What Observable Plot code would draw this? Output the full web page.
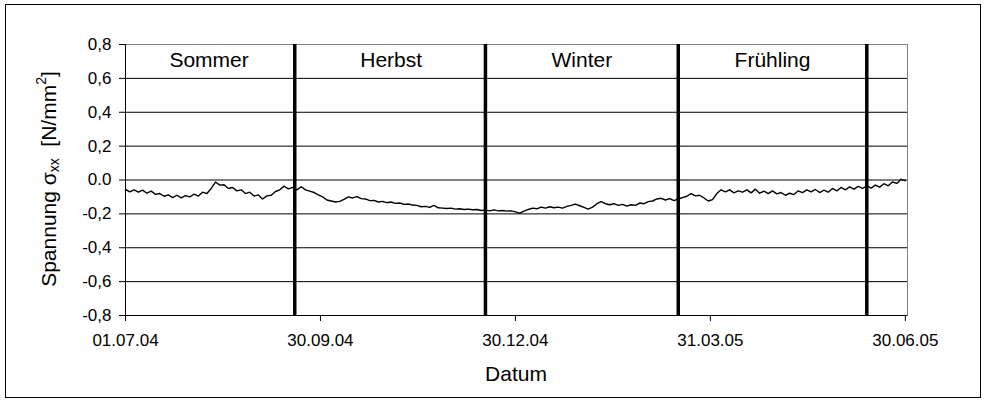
<!DOCTYPE html>
<html><head><meta charset="utf-8">
<script src="https://cdn.jsdelivr.net/npm/d3@7"></script>
<script src="https://cdn.jsdelivr.net/npm/@observablehq/plot@0.6"></script>
<style>
body{margin:0;background:#fff}
#chart{width:985px;height:402px}
</style>
</head><body><div id="chart"></div>
<script>
// ---- data ----
const seriesStart = "2004-07-01";
const stepDays = 2;
const stressValues = [
-0.055,-0.070,-0.058,-0.072,-0.060,-0.078,-0.066,-0.085,-0.080,-0.096,
-0.088,-0.104,-0.090,-0.106,-0.092,-0.100,-0.084,-0.095,-0.072,-0.080,
-0.050,-0.012,-0.030,-0.028,-0.050,-0.044,-0.064,-0.058,-0.080,-0.072,
-0.095,-0.088,-0.112,-0.094,-0.090,-0.068,-0.058,-0.036,-0.052,-0.044,
-0.058,-0.040,-0.058,-0.066,-0.074,-0.088,-0.100,-0.118,-0.124,-0.130,
-0.126,-0.114,-0.100,-0.106,-0.098,-0.110,-0.112,-0.122,-0.120,-0.130,
-0.126,-0.134,-0.130,-0.138,-0.136,-0.144,-0.142,-0.148,-0.150,-0.158,
-0.156,-0.162,-0.150,-0.164,-0.166,-0.168,-0.166,-0.172,-0.170,-0.174,
-0.172,-0.176,-0.174,-0.180,-0.178,-0.182,-0.176,-0.182,-0.180,-0.184,
-0.182,-0.188,-0.196,-0.184,-0.174,-0.166,-0.170,-0.160,-0.166,-0.158,
-0.164,-0.160,-0.166,-0.156,-0.150,-0.142,-0.152,-0.162,-0.172,-0.160,
-0.140,-0.128,-0.140,-0.146,-0.140,-0.150,-0.144,-0.154,-0.146,-0.150,
-0.136,-0.140,-0.128,-0.124,-0.112,-0.108,-0.118,-0.110,-0.122,-0.112,
-0.104,-0.096,-0.080,-0.094,-0.090,-0.106,-0.124,-0.116,-0.080,-0.058,
-0.070,-0.058,-0.076,-0.064,-0.072,-0.058,-0.076,-0.054,-0.078,-0.066,
-0.080,-0.064,-0.082,-0.074,-0.090,-0.078,-0.086,-0.064,-0.074,-0.058,
-0.070,-0.056,-0.074,-0.060,-0.072,-0.050,-0.064,-0.044,-0.058,-0.040,
-0.054,-0.038,-0.050,-0.034,-0.048,-0.030,-0.042,-0.022,-0.034,-0.012,
-0.020,0.004,-0.004
];
const seasonNames = ["Sommer","Herbst","Winter","Frühling"];
const seasonLabelDates = ["2004-08-09","2004-11-02","2005-01-30","2005-04-29"];
const seasonBoundaryDates = ["2004-09-18","2004-12-16","2005-03-16","2005-06-12"];
const xTickDates = ["2004-07-01","2004-09-30","2004-12-30","2005-03-31","2005-06-30"];
const xTickLabels = ["01.07.04","30.09.04","30.12.04","31.03.05","30.06.05"];
const yTicks = [-0.8,-0.6,-0.4,-0.2,0,0.2,0.4,0.6,0.8];
const yTickLabels = ["-0,8","-0,6","-0,4","-0,2","0.0","0,2","0,4","0,6","0,8"];
const xDomain = ["2004-07-01","2005-07-01"];
const xTitle = "Datum";

// ---- build ----
const parse = s => new Date(s + "T00:00:00Z");
const start = parse(seriesStart);
const series = stressValues.map((v, i) => ({date: d3.utcDay.offset(start, i * stepDays), value: v}));
const seasons = seasonNames.map((n, i) => ({name: n, date: parse(seasonLabelDates[i])}));
const bounds = seasonBoundaryDates.map(parse);
const xTicks = xTickDates.map(parse);
const xLabelByTime = new Map(xTicks.map((d, i) => [+d, xTickLabels[i]]));
const yLabelByVal = new Map(yTicks.map((v, i) => [v.toFixed(1), yTickLabels[i]]));

const W = 985, H = 402;
const chart = Plot.plot({
  width: W, height: H,
  marginLeft: 125, marginRight: 78, marginTop: 44, marginBottom: 87,
  style: {fontFamily: "'Liberation Sans', Arial, sans-serif", fontSize: "17px", color: "#000", background: "#fff"},
  x: {type: "utc", domain: xDomain.map(parse), label: null},
  y: {domain: [-0.8, 0.8], label: null},
  marks: [
    Plot.ruleY(yTicks.filter(v => v > -0.8 && v < 0.8), {stroke: "#000", strokeWidth: 1, strokeOpacity: 1}),
    Plot.frame({stroke: "#808080", strokeWidth: 1}),
    Plot.ruleY([-0.8], {stroke: "#000", strokeWidth: 1}),
    Plot.ruleX([parse(xDomain[0])], {stroke: "#000", strokeWidth: 1}),
    Plot.ruleX(bounds, {stroke: "#000", strokeWidth: 3.5}),
    Plot.line(series, {x: "date", y: "value", stroke: "#000", strokeWidth: 1.4}),
    Plot.text(seasons, {x: "date", y: 0.7, text: "name", fontSize: 21, dy: -1, fill: "#000"}),
    Plot.axisY({ticks: yTicks, tickFormat: v => yLabelByVal.get(v.toFixed(1)), tickSize: 6, tickPadding: 8, fontSize: 17, label: null}),
    Plot.axisX({ticks: xTicks, tickFormat: d => xLabelByTime.get(+d), tickSize: 6, tickPadding: 12, fontSize: 17, label: null})
  ]
});
document.getElementById("chart").appendChild(chart);

const svg = d3.select(chart);
svg.append("rect").attr("x", 5.5).attr("y", 4.5).attr("width", 975).attr("height", 393)
  .attr("fill", "none").attr("stroke", "#000").attr("stroke-width", 1);

svg.append("text").attr("x", 516).attr("y", 375).attr("text-anchor", "middle").attr("dominant-baseline", "middle")
  .attr("font-size", 21).attr("fill", "#000").text(xTitle);

const yt = svg.append("text").attr("transform", "translate(50,179) rotate(-90)")
  .attr("text-anchor", "middle").attr("dominant-baseline", "middle").attr("font-size", 21).attr("fill", "#000");
yt.append("tspan").text("Spannung σ");
yt.append("tspan").attr("font-size", 14).attr("dy", 5).text("xx");
yt.append("tspan").attr("dy", -5).attr("xml:space", "preserve").text("\u00a0\u00a0[N/mm");
yt.append("tspan").attr("font-size", 14).attr("dy", -8).text("2");
yt.append("tspan").attr("dy", 8).text("]");
</script>
</body></html>
